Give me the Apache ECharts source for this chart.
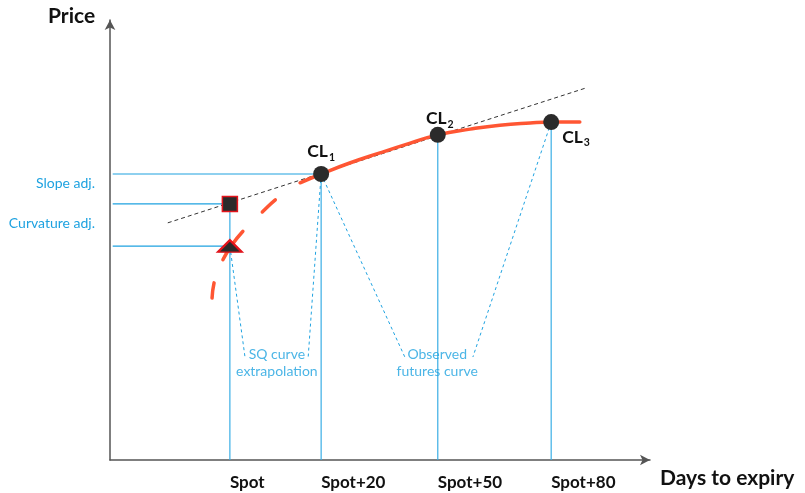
<!DOCTYPE html>
<html><head><meta charset="utf-8">
<script src="https://cdn.jsdelivr.net/npm/echarts@6/dist/echarts.min.js"></script>
<style>html,body{margin:0;padding:0;background:#fff}#c{width:805px;height:493px}</style>
</head><body><div id="c"></div>
<script>
// Axis positions (arbitrary units 0..100) of the tick labels
var tickPos = [22.2, 39.1, 60.7, 81.7];
var tickLabels = ['Spot', 'Spot+20', 'Spot+50', 'Spot+80'];
// Observed futures points CL1..CL3
var clPoints = [[39.1, 65.0], [60.7, 73.9], [81.7, 76.8]];
var clNames = ['1', '2', '3'];
// Slope / curvature adjusted spot estimates
var squarePt = [22.2, 58.2];
var trianglePt = [22.2, 48.6];
// Observed futures curve (solid)
var solidCurve = [[35.2, 63.0], [39.1, 65.0], [44.4, 67.5], [50.0, 69.8], [55.6, 72.0], [60.7, 73.9], [66.7, 75.2], [72.2, 76.1], [77.8, 76.6], [81.7, 76.8], [87.0, 76.8]];
// SQ curve extrapolation (dashed)
var dashedCurve = [[35.2, 63.0], [31.5, 60.0], [27.8, 55.9], [25.0, 52.5], [22.6, 48.9], [20.7, 45.0], [19.4, 40.9], [18.9, 36.8]];
// Tangent line at CL1
var tangentLine = [[10.7, 53.9], [88.0, 84.5]];
// Annotation label anchors and the ends of the dotted leader lines
var noteLabels = [{text: 'SQ curve\nextrapolation', pos: [30.9, 22.0]}, {text: 'Observed\nfutures curve', pos: [60.6, 22.0]}];
var leaderEnds = [[25.0, 23.4], [36.7, 23.4], [54.6, 23.4], [67.2, 23.4]];
var leaderStarts = [trianglePt, clPoints[0], clPoints[0], clPoints[2]];
var sideLabels = ['Slope adj.', 'Curvature adj.'];

var blue = '#1ea2e0';
var FONT = 'Lato';
var series = [];
function seg(data, style, z) {
  series.push({type: 'line', data: data, symbol: 'none', silent: true, z: z || 2,
    lineStyle: style, animation: false});
}
// horizontal guide lines
[clPoints[0], squarePt, trianglePt].forEach(function (p) {
  seg([[0.5, p[1]], [p[0], p[1]]], {color: blue, width: 1.2});
});
// vertical guide lines
[squarePt, clPoints[0], clPoints[1], clPoints[2]].forEach(function (p) {
  seg([[p[0], p[1]], [p[0], 0]], {color: '#3aaee5', width: 1.2});
});
// dotted leaders
leaderStarts.forEach(function (p, i) {
  seg([p, leaderEnds[i]], {color: blue, width: 1, type: [3, 3]});
});
// tangent
seg(tangentLine, {color: '#333', width: 1, type: [4, 3]}, 3);
// curves
series.push({type: 'line', data: solidCurve, smooth: true, symbol: 'none', z: 4, animation: false,
  lineStyle: {color: '#ff5633', width: 3.5, cap: 'round'}});
series.push({type: 'line', data: dashedCurve, smooth: true, symbol: 'none', z: 4, animation: false,
  lineStyle: {color: '#ff5633', width: 3.5, type: [18, 27, 35.5, 24.5, 30, 40], dashOffset: 145, cap: 'round'}});
// CL points
series.push({type: 'scatter', z: 6, symbol: 'circle', symbolSize: 16, animation: false,
  itemStyle: {color: '#2b2b2b', opacity: 1},
  data: clPoints.map(function (p, i) {
    return {value: p, label: {show: true,
      position: i === 2 ? 'right' : 'top', distance: i === 2 ? 3 : (i === 0 ? 3 : 1),
      offset: i === 2 ? [0, 15] : (i === 1 ? [2, 4] : [0, 0]),
      formatter: '{a|CL}{b|' + clNames[i] + '}',
      rich: {a: {fontFamily: FONT, fontSize: 17.5, fontWeight: 'bold', color: '#111'},
             b: {fontFamily: FONT, fontSize: 10.5, fontWeight: 'bold', color: '#111', padding: [12, 0, 0, 1]}}}};
  })});
series.push({type: 'scatter', z: 6, symbol: 'rect', symbolSize: 15, animation: false,
  itemStyle: {color: '#2b2b2b', borderColor: '#e3141c', borderWidth: 1.5, opacity: 1}, data: [squarePt]});
series.push({type: 'scatter', z: 6, symbol: 'triangle', symbolSize: [24, 12], animation: false,
  itemStyle: {color: '#2b2b2b', borderColor: '#e3141c', borderWidth: 2, opacity: 1}, data: [trianglePt]});
// annotation texts
series.push({type: 'scatter', z: 5, symbolSize: 0, animation: false, silent: true,
  data: noteLabels.map(function (n) {
    return {value: n.pos, label: {show: true, position: 'inside', formatter: n.text,
      fontFamily: FONT, fontSize: 14, lineHeight: 17, color: blue}};
  })});

var chart = echarts.init(document.getElementById('c'), null, {renderer: 'canvas'});
chart.setOption({
  animation: false,
  grid: {left: 110, right: 155, top: 20, bottom: 33},
  xAxis: {type: 'value', min: 0, max: 100,
    splitLine: {show: false},
    axisLine: {lineStyle: {color: '#555', width: 1.5}, symbol: ['none', 'arrow'], symbolSize: [8, 10]},
    axisTick: {show: false},
    axisLabel: {customValues: tickPos, align: 'left', margin: 14,
      fontFamily: FONT, fontSize: 17, fontWeight: 'bold', color: '#111',
      formatter: function (v) { var i = tickPos.indexOf(v); return i >= 0 ? tickLabels[i] : ''; }}},
  yAxis: {type: 'value', min: 0, max: 100,
    splitLine: {show: false},
    axisLine: {show: true, lineStyle: {color: '#555', width: 1.5}, symbol: ['none', 'arrow'], symbolSize: [8, 10]},
    axisTick: {show: false}, axisLabel: {show: false}},
  graphic: [
    {type: 'text', left: 48, top: 6, style: {text: 'Price', fontFamily: FONT, fontSize: 21, fontWeight: 'bold', fill: '#111'}},
    {type: 'text', left: 660, top: 468, style: {text: 'Days to expiry', fontFamily: FONT, fontSize: 21, fontWeight: 'bold', fill: '#111'}},
    {type: 'text', right: 805 - 95, top: 176, style: {text: sideLabels[0], fontFamily: FONT, fontSize: 14, fill: blue, align: 'right'}},
    {type: 'text', right: 805 - 95, top: 216, style: {text: sideLabels[1], fontFamily: FONT, fontSize: 14, fill: blue, align: 'right'}}
  ],
  series: series
});
</script></body></html>
